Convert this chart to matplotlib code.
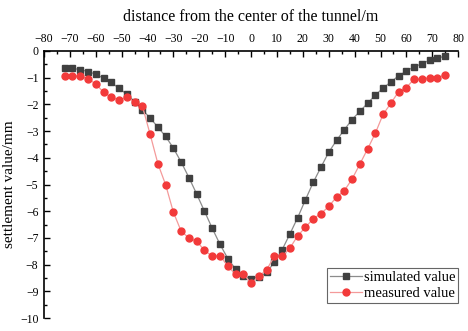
import numpy as np
import matplotlib.pyplot as plt
from matplotlib.ticker import MultipleLocator

plt.rcParams['font.family'] = ['Liberation Serif', 'DejaVu Serif']
plt.rcParams['axes.unicode_minus'] = True

# distancia al centro del tunel (m)
distancia = np.arange(-72, 76, 3)

# asentamiento simulado (mm)
simulado = [-0.65, -0.65, -0.70, -0.77, -0.87, -1.02, -1.18, -1.40, -1.62, -1.90,
            -2.20, -2.51, -2.85, -3.20, -3.64, -4.16, -4.74, -5.36, -6.00, -6.64,
            -7.24, -7.77, -8.16, -8.42, -8.52, -8.47, -8.29, -7.91, -7.44, -6.85,
            -6.24, -5.57, -4.92, -4.35, -3.79, -3.35, -2.95, -2.57, -2.26, -1.96,
            -1.65, -1.39, -1.16, -0.93, -0.75, -0.59, -0.48, -0.34, -0.27, -0.19]

# asentamiento medido (mm)
medido = [-0.95, -0.95, -0.93, -1.05, -1.23, -1.55, -1.73, -1.83, -1.73, -1.92,
          -2.06, -3.12, -4.22, -5.01, -6.04, -6.75, -7.00, -7.13, -7.46, -7.69,
          -7.66, -8.06, -8.36, -8.34, -8.70, -8.44, -8.19, -7.69, -7.69, -7.38,
          -6.92, -6.60, -6.28, -6.09, -5.82, -5.47, -5.23, -4.80, -4.24, -3.67,
          -3.08, -2.37, -1.96, -1.52, -1.37, -1.05, -1.06, -1.00, -1.00, -0.89]

fig = plt.figure(figsize=(4.68, 3.31), dpi=100)
ax = fig.add_axes([0.094, 0.039, 0.885, 0.807])

ax.plot(distancia, simulado, color='#8c8c8c', lw=0.9, marker='s', ms=4.3,
        mfc='#404040', mec='#404040', label='simulated value')
ax.plot(distancia, medido, color='#f49a9a', lw=0.9, marker='o', ms=5,
        mfc='#f23a3a', mec='#f23a3a', label='measured value')

ax.set_xlim(-80, 80)
ax.set_ylim(-10, 0)
ax.xaxis.set_major_locator(MultipleLocator(10))
ax.xaxis.set_minor_locator(MultipleLocator(5))
ax.yaxis.set_major_locator(MultipleLocator(1))
ax.yaxis.set_minor_locator(MultipleLocator(0.5))

ax.xaxis.tick_top()
ax.xaxis.set_label_position('top')
ax.spines['right'].set_visible(False)
ax.spines['bottom'].set_visible(False)
ax.spines['left'].set_linewidth(1.2)
ax.spines['top'].set_linewidth(1.2)
ax.tick_params(which='both', direction='in', labelsize=8.5, color='black')
ax.tick_params(which='major', length=4, width=1)
ax.tick_params(which='minor', length=2.5, width=1)
ax.tick_params(axis='x', pad=4)
ax.tick_params(axis='y', pad=4)

ax.set_xlabel('distance from the center of the tunnel/m', fontsize=11.5, labelpad=9)
ax.set_ylabel('settlement value/mm', fontsize=11, labelpad=3)

leg = ax.legend(loc='lower right', bbox_to_anchor=(1.0, 0.055), fontsize=10.5,
                fancybox=False, edgecolor='#666666', framealpha=1,
                handlelength=2.2, handletextpad=0.1, borderpad=0.2,
                labelspacing=0.2, borderaxespad=0)
leg.get_frame().set_linewidth(0.8)

fig.savefig('out.png', dpi=100)
